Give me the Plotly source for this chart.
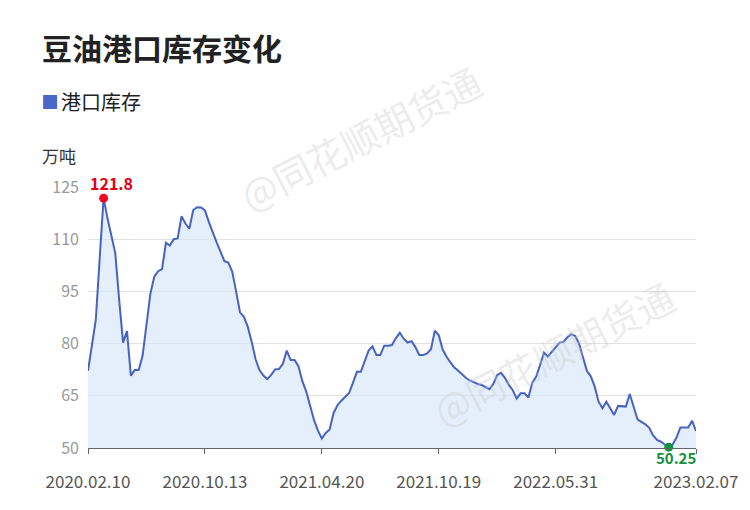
import plotly.graph_objects as go

# ---- data ----
series_name = "港口库存"
values = [
    72.2, 79.5, 86.8, 104.5, 121.8, 116.0, 111.0, 106.0, 92.5, 80.3,
    83.6, 70.8, 72.4, 72.4, 76.5, 85.0, 94.3, 99.2, 100.8, 101.4,
    109.0, 108.2, 110.0, 110.2, 116.6, 114.5, 113.0, 118.4, 119.2, 119.1,
    118.3, 115.0, 111.8, 109.1, 106.4, 103.7, 103.3, 100.7, 95.0, 89.0,
    87.7, 84.8, 80.5, 75.5, 72.4, 70.8, 69.8, 71.0, 72.6, 72.7,
    74.2, 78.0, 75.3, 75.3, 73.5, 69.2, 66.2, 61.8, 58.0, 55.0,
    52.7, 54.3, 55.3, 60.0, 62.3, 63.6, 64.7, 65.8, 68.8, 71.9,
    71.9, 75.2, 78.0, 79.2, 76.7, 76.7, 79.4, 79.4, 79.6, 81.6,
    83.1, 81.4, 80.3, 80.7, 79.0, 76.7, 76.7, 77.2, 78.4, 83.7,
    82.4, 78.3, 76.2, 74.6, 73.1, 72.2, 71.2, 70.1, 69.4, 68.8,
    68.4, 68.1, 67.5, 66.9, 68.4, 71.0, 71.6, 70.1, 68.1, 66.6,
    64.2, 65.7, 65.7, 64.5, 68.8, 70.5, 73.9, 77.4, 76.3, 77.7,
    79.1, 80.3, 80.5, 81.8, 82.7, 82.2, 80.0, 76.2, 72.2, 70.6,
    67.7, 63.3, 61.4, 63.3, 61.2, 59.5, 62.1, 61.9, 61.9, 65.5,
    61.8, 58.2, 57.5, 56.8, 55.8, 53.6, 52.3, 51.8, 51.0, 50.25,
    51.0, 53.0, 55.9, 55.9, 55.9, 57.8, 54.9,
]
tick_positions = [0, 30, 60, 90, 120, 156]
tick_labels = ["2020.02.10", "2020.10.13", "2021.04.20", "2021.10.19", "2022.05.31", "2023.02.07"]
y_ticks = [50, 65, 80, 95, 110, 125]

x = list(range(len(values)))
i_max = max(range(len(values)), key=lambda i: values[i])
i_min = min(range(len(values)), key=lambda i: values[i])

FONT = "Noto Sans CJK SC"
LINE = "#4763c2"
L, T, PW, PH = 88, 187, 610, 261


def px(xp):
    return (xp - L) / PW


def py(yp):
    return 1 - (yp - T) / PH


fig = go.Figure()
fig.add_trace(go.Scatter(
    x=x, y=values, mode="lines", name=series_name,
    line=dict(color=LINE, width=2),
    fill="tozeroy", fillcolor="rgba(215,230,250,0.65)",
    hoverinfo="y", showlegend=False,
))
fig.add_trace(go.Scatter(
    x=[i_max], y=[values[i_max]], mode="markers",
    marker=dict(color="#ee0a24", size=9),
    cliponaxis=False, showlegend=False, hoverinfo="skip",
))
fig.add_trace(go.Scatter(
    x=[i_min], y=[values[i_min]], mode="markers",
    marker=dict(color="#14903e", size=9),
    cliponaxis=False, showlegend=False, hoverinfo="skip",
))
fig.add_annotation(x=i_max, y=values[i_max], text=f"<b>{values[i_max]}</b>", showarrow=False,
                   xshift=8, yshift=15, font=dict(color="#e60012", size=16, family=FONT))
fig.add_annotation(x=i_min, y=values[i_min], text=f"<b>{values[i_min]}</b>", showarrow=False,
                   xshift=7, yshift=-10, borderpad=0,
                   font=dict(color="#14903e", size=15, family=FONT))

fig.update_layout(
    width=750, height=510,
    margin=dict(l=L, r=750 - L - PW, t=T, b=510 - T - PH),
    paper_bgcolor="white", plot_bgcolor="white",
    font=dict(family=FONT),
    xaxis=dict(
        range=[0, len(values) - 1],
        tickvals=tick_positions, ticktext=tick_labels,
        showgrid=False, zeroline=False,
        showline=True, linecolor="#666666", linewidth=1,
        ticks="outside", ticklen=5, tickcolor="#666666",
        ticklabelstandoff=14,
        tickfont=dict(size=17, color="#555555", family=FONT),
    ),
    yaxis=dict(
        range=[50, 125], tickvals=y_ticks,
        showgrid=True, gridcolor="#e2e2e2", gridwidth=1,
        zeroline=False, showline=False,
        ticks="", ticklabelstandoff=8,
        tickfont=dict(size=16, color="#999999", family=FONT),
    ),
    showlegend=False,
)

fig.add_annotation(text="<b>豆油港口库存变化</b>", xref="paper", yref="paper",
                   x=px(40), y=py(47), xanchor="left", yanchor="middle",
                   showarrow=False, font=dict(size=30, color="#222222", family=FONT))
fig.add_annotation(text=series_name, xref="paper", yref="paper",
                   x=px(59), y=py(102), xanchor="left", yanchor="middle",
                   showarrow=False, font=dict(size=20, color="#222222", family=FONT))
fig.add_annotation(text="万吨", xref="paper", yref="paper",
                   x=px(40), y=py(156), xanchor="left", yanchor="middle",
                   showarrow=False, font=dict(size=17, color="#333333", family=FONT))
# watermarks
for wx, wy in [(361, 137), (555, 352)]:
    fig.add_annotation(text="@同花顺期货通", xref="paper", yref="paper",
                       x=px(wx), y=py(wy),
                       xanchor="center", yanchor="middle", showarrow=False,
                       textangle=-27, font=dict(size=38, color="rgba(200,200,200,0.35)", family=FONT))

# legend swatch (square)
fig.add_shape(type="rect", xref="paper", yref="paper",
              x0=px(43), x1=px(57), y0=py(109), y1=py(95),
              fillcolor="#4a67c9", line=dict(width=0))

fig.write_html("out.html", config={"displayModeBar": False},
               post_script="document.body.style.margin='0px';")
